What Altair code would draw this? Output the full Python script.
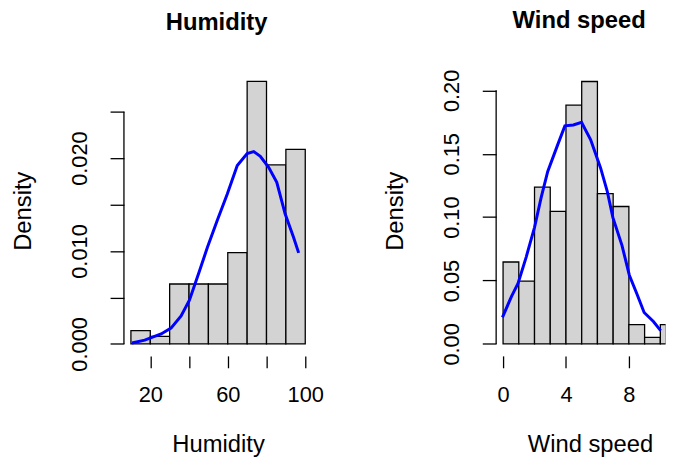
import altair as alt
import pandas as pd

FONT = "Liberation Sans"

# ---------------- data ----------------
hum_breaks = [10, 20, 30, 40, 50, 60, 70, 80, 90, 100]
hum_density = [0.00143, 0.00082, 0.00645, 0.00645, 0.00645, 0.00983, 0.02825, 0.01927, 0.02094]
hum_curve_x = [10.5, 17.1, 25.6, 30.7, 35.9, 40.2, 45.3, 49.5, 54.6, 59.7, 64.9, 70.0, 73.4, 76.8, 81.1, 85.3, 89.6, 93.9, 96.6]
hum_curve_y = [0.0001, 0.0004, 0.00107, 0.0017, 0.003, 0.0047, 0.0078, 0.0104, 0.0133, 0.0161, 0.0192, 0.0205, 0.0207, 0.0202, 0.019, 0.0174, 0.014, 0.0115, 0.0098]
hum_x_ticks = [20, 40, 60, 80, 100]
hum_y_ticks = [0, 0.005, 0.010, 0.015, 0.020, 0.025]

wind_breaks = [0, 1, 2, 3, 4, 5, 6, 7, 8, 9, 10, 11]
wind_density = [0.0646, 0.0495, 0.1237, 0.1045, 0.1883, 0.207, 0.1185, 0.1084, 0.0152, 0.0052, 0.0152]
wind_curve_x = [-0.04, 0.53, 0.95, 1.47, 2.0, 2.42, 2.84, 3.47, 3.93, 4.47, 4.99, 5.57, 6.2, 6.62, 6.98, 7.56, 8.03, 8.5, 8.97, 9.56, 10.02]
wind_curve_y = [0.0209, 0.0373, 0.0477, 0.0685, 0.092, 0.1154, 0.136, 0.157, 0.172, 0.1727, 0.1748, 0.161, 0.1388, 0.1206, 0.0998, 0.0777, 0.0542, 0.0398, 0.0248, 0.0177, 0.0105]
wind_x_ticks = [0, 2, 4, 6, 8, 10]
wind_y_ticks = [0, 0.05, 0.10, 0.15, 0.20]

H = 286


def panel(title, xtitle, breaks, dens, cx, cy, xticks, yticks, xdom, ydom, width,
          xlabel_expr, yfmt, ylabel_expr, xtitle_x, bar_limit):
    bars = pd.DataFrame({"start": breaks[:-1], "end": breaks[1:], "density": dens})
    curve = pd.DataFrame({"x": cx, "y": cy})
    xrule = pd.DataFrame({"a": [xticks[0]], "b": [xticks[-1]]})
    yrule = pd.DataFrame({"a": [yticks[0]], "b": [yticks[-1]]})
    xs = alt.Scale(domain=xdom, nice=False, zero=False)
    ys = alt.Scale(domain=ydom, nice=False, zero=False)
    xaxis = alt.Axis(values=xticks, domain=False, grid=False, tickSize=12, tickWidth=1.3,
                     tickColor="black", offset=1.5, labelFont=FONT, labelFontSize=22,
                     labelColor="black", labelPadding=34, labelBaseline="alphabetic",
                     labelExpr=xlabel_expr, labelFlush=False, labelOverlap=False,
                     title=xtitle, titleFont=FONT, titleFontSize=24, titleFontWeight="normal",
                     titleColor="black", titleBaseline="alphabetic", titleY=96,
                     titleX=xtitle_x, titleAlign="center")
    yaxis = alt.Axis(values=yticks, format=yfmt, domain=False, grid=False, tickSize=14,
                     tickWidth=1.3, tickColor="black", labelFont=FONT, labelFontSize=22,
                     labelColor="black", labelAngle=270, labelAlign="center",
                     labelBaseline="alphabetic", labelPadding=23.7, labelExpr=ylabel_expr,
                     labelFlush=False, labelOverlap=False,
                     title="Density", titleFont=FONT, titleFontSize=24,
                     titleFontWeight="normal", titleColor="black", titleAngle=270,
                     titleAlign="center", titleBaseline="alphabetic", titleX=-94, titleY=141)
    b = alt.Chart(bars).transform_calculate(
        end_c=f"min(datum.end, {bar_limit})"
    ).mark_rect(fill="#D3D3D3", stroke="black", strokeWidth=1.3, clip=True).encode(
        x=alt.X("start:Q", scale=xs, axis=xaxis),
        x2="end_c:Q",
        y=alt.Y("density:Q", scale=ys, axis=yaxis),
        y2=alt.datum(0),
    )
    line = alt.Chart(curve).mark_line(color="#0000FF", strokeWidth=3, clip=True).encode(
        x=alt.X("x:Q", scale=xs, title=xtitle),
        y=alt.Y("y:Q", scale=ys, title="Density"),
    )
    xr = alt.Chart(xrule).mark_rule(color="black", strokeWidth=1.3, clip=True).encode(
        x=alt.X("a:Q", scale=xs, title=xtitle), x2="b:Q", y=alt.value(H + 1.5)
    )
    yr = alt.Chart(yrule).mark_rule(color="black", strokeWidth=1.3).encode(
        y=alt.Y("a:Q", scale=ys, title="Density"), y2="b:Q", x=alt.value(0)
    )
    return alt.layer(b, line, xr, yr).properties(
        width=width, height=H,
        title=alt.TitleParams(title, font=FONT, fontSize=24, fontWeight="bold", color="black",
                              anchor="middle", frame="group", offset=17.8, baseline="alphabetic",
                              dx=(-1.7 if width < 180 else -1.5)),
    )


left = panel("Humidity", "Humidity", hum_breaks, hum_density, hum_curve_x, hum_curve_y,
             hum_x_ticks, hum_y_ticks, [6.4, 103.6], [-0.00113, 0.02938], 190,
             "datum.value % 40 == 20 ? datum.label : ''", ".3f",
             "round(datum.value * 1000) % 10 == 0 ? datum.label : ''", 95, 103.6)

right = panel("Wind speed", "Wind speed", wind_breaks, wind_density, wind_curve_x, wind_curve_y,
              wind_x_ticks, wind_y_ticks, [-0.44, 10.335], [-0.00828, 0.2153], 171,
              "datum.value % 4 == 0 ? datum.label : ''", ".2f", "datum.label", 94.7, 10.37)

chart = alt.HConcatChart(hconcat=[left, right], spacing=185.6, bounds="flush").properties(
    padding={"left": 4, "top": -1.5, "right": 0, "bottom": 0}, background="white"
).configure_view(stroke=None)

chart.save("out.html", embed_options={"renderer": "svg", "actions": False})
